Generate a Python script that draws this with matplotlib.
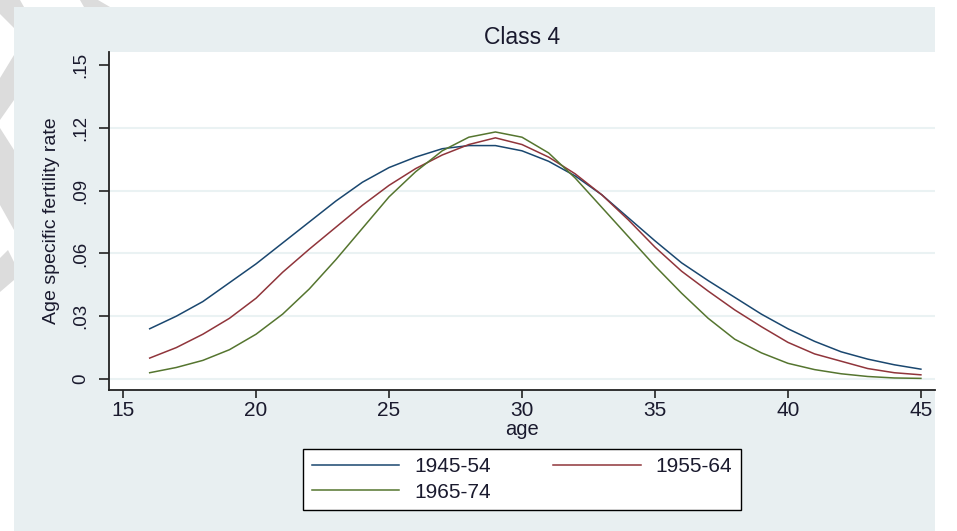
import matplotlib
matplotlib.use("Agg")
import matplotlib.pyplot as plt
from matplotlib.patches import Rectangle, Polygon

plt.rcParams['font.family'] = ['Liberation Sans', 'DejaVu Sans']

# data
ages = list(range(16, 46))
cohort_1945 = [0.024, 0.030, 0.037, 0.046, 0.055, 0.065, 0.075, 0.085, 0.094, 0.101,
               0.106, 0.110, 0.1115, 0.1115, 0.109, 0.104, 0.097, 0.088, 0.077, 0.066,
               0.0555, 0.047, 0.039, 0.031, 0.024, 0.018, 0.013, 0.0095, 0.0068, 0.0047]
cohort_1955 = [0.010, 0.015, 0.0214, 0.029, 0.0386, 0.051, 0.062, 0.0725, 0.083, 0.0925,
               0.1005, 0.107, 0.112, 0.1152, 0.112, 0.106, 0.098, 0.088, 0.076, 0.063,
               0.0515, 0.042, 0.033, 0.025, 0.0175, 0.012, 0.0085, 0.005, 0.003, 0.002]
cohort_1965 = [0.003, 0.0055, 0.0089, 0.014, 0.0214, 0.031, 0.043, 0.057, 0.072, 0.087,
               0.099, 0.109, 0.1155, 0.118, 0.1155, 0.108, 0.096, 0.082, 0.068, 0.054,
               0.041, 0.029, 0.019, 0.0125, 0.0075, 0.0045, 0.0025, 0.0012, 0.0005, 0.0003]
series_labels = ['1945-54', '1955-64', '1965-74']
colors = ['#1a476f', '#90353b', '#55752f']

xticks = [15, 20, 25, 30, 35, 40, 45]
yticks = [0, 0.03, 0.06, 0.09, 0.12, 0.15]
ytick_labels = ['0', '.03', '.06', '.09', '.12', '.15']

W, H = 957, 531
fig = plt.figure(figsize=(W / 100, H / 100), dpi=100, facecolor='white')

def px(pts):
    # pixel coords (top-left origin) -> figure fraction
    return [(x / W, 1 - y / H) for x, y in pts]

# watermark bits in the white margin
wm = [
    [(0, 0), (20, 0), (24, 7), (0, 7)],
    [(80, 0), (98, 0), (110, 7), (84, 7)],
    [(0, 0), (14, 0), (14, 28), (0, 14)],
    [(0, 78), (14, 55), (14, 100), (0, 120)],
    [(0, 128), (14, 150), (14, 230), (0, 205)],
    [(0, 258), (8, 250), (14, 262), (14, 280), (0, 292)],
]
for p in wm:
    fig.patches.append(Polygon(px(p), closed=True, transform=fig.transFigure,
                               facecolor='#dcdcdc', edgecolor='none', zorder=-2))

# graph region (stata s2color look)
fig.patches.append(Rectangle((14 / W, 0), (935 - 14) / W, (H - 7) / H,
                             transform=fig.transFigure, facecolor='#e8eff1',
                             edgecolor='none', zorder=-1))

ax = fig.add_axes([109 / W, 1 - 390 / H, (935 - 109) / W, (390 - 52) / H])
ax.set_facecolor('white')

lines = []
for vals, lab, c in zip([cohort_1945, cohort_1955, cohort_1965], series_labels, colors):
    l, = ax.plot(ages, vals, color=c, lw=1.1, label=lab)
    lines.append(l)

ax.set_xlim(14.47, 45.53)
ax.set_ylim(-0.00525, 0.1562)
ax.set_xticks(xticks)
ax.set_yticks(yticks)
ax.set_yticklabels(ytick_labels, rotation=90, va='center')

for t in yticks[:-1]:
    ax.axhline(t, color='#eaf2f3', lw=1.5, zorder=0)

for s in ['top', 'right']:
    ax.spines[s].set_visible(False)
for s in ['left', 'bottom']:
    ax.spines[s].set_color('#222222')
    ax.spines[s].set_linewidth(1.3)

ax.tick_params(axis='both', direction='out', width=1.2, color='#222222',
               labelcolor='#1a1a2e')
ax.tick_params(axis='y', length=7.2, pad=7, labelsize=13.5)
ax.tick_params(axis='x', length=5.8, pad=2, labelsize=15)

ax.set_xlabel('age', fontsize=14.5, color='#1a1a2e', labelpad=0)
ax.set_ylabel('Age specific fertility rate', fontsize=14, color='#1a1a2e', labelpad=9)
ax.set_title('Class 4', fontsize=16.5, color='#1a1a2e', pad=6)

# row-wise order like stata: 1945-54, 1955-64 / 1965-74
order = [0, 2, 1]
leg = ax.legend([lines[i] for i in order], [series_labels[i] for i in order],
                loc='upper center', bbox_to_anchor=(0.5, -0.1746), ncol=2,
                fontsize=15, frameon=True, fancybox=False, handlelength=4.2,
                handletextpad=0.72, columnspacing=3.0, borderpad=0.4,
                labelspacing=0.3, borderaxespad=0, framealpha=1)
leg.get_frame().set_edgecolor('black')
leg.get_frame().set_facecolor('white')
leg.get_frame().set_linewidth(1.0)
for t in leg.get_texts():
    t.set_color('#1a1a2e')

fig.savefig('out.png', dpi=100, facecolor=fig.get_facecolor())
